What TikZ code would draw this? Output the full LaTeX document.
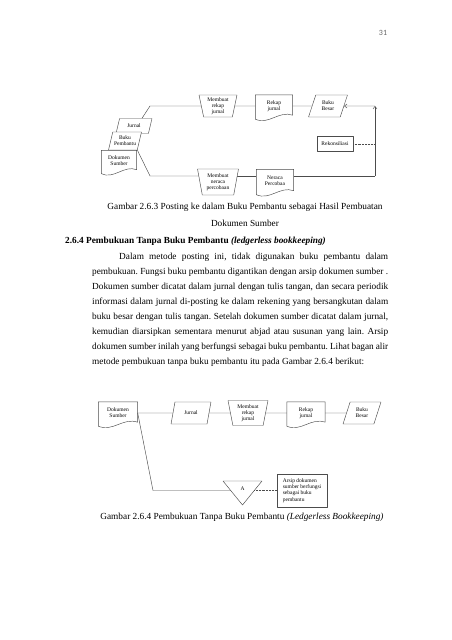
\documentclass[tikz,border=0pt]{standalone}
\usepackage{fontspec}
\setmainfont{Liberation Serif}
\newfontfamily\nomorfont{Carlito}
\usetikzlibrary{arrows.meta,shapes.geometric,calc,backgrounds}
\frenchspacing
\tikzset{
	halaman/.style={x=1pt, y=-1pt, line join=round},
	garis/.style={draw=black!70, line width=0.45pt},
	teks/.style={font=\fontsize{9.3}{15}\selectfont, inner sep=0pt},
	kecil/.style={font=\fontsize{5.5}{6.2}\selectfont, align=center, inner sep=0.5pt},
	jajar/.style={kecil, garis, fill=white, trapezium, trapezium left angle=70,
	              trapezium right angle=110, trapezium stretches=true},
	manual/.style={kecil, garis, fill=white, trapezium, shape border rotate=180,
	               trapezium left angle=79, trapezium right angle=79, trapezium stretches=true},
	dok/.style={kecil, rectangle},
	kotak/.style={kecil, garis, fill=white, rectangle},
	tok/.style={garis, -{Straight Barb[length=2.6pt,width=4pt]}},
	titik/.style={garis, densely dotted},
}
% garis luar dokumen (bawah bergelombang)
\newcommand{\dokumen}[1]{%
	\draw[garis] ($(#1.south west)+(0,2)$) -- (#1.north west) -- (#1.north east)
	  -- ($(#1.south east)+(0,-2)$)
	  .. controls ($(#1.south)+(5,-7)$) and ($(#1.south)+(-5,8)$) .. ($(#1.south west)+(0,2)$);}

\begin{document}
\begin{tikzpicture}[halaman]
\begin{scope}[on background layer]
\fill[white] (0,0) rectangle (452,640);
\end{scope}
\useasboundingbox (0,0) rectangle (452,640);

\node[font=\nomorfont\fontsize{8}{9}\selectfont, text=black!60, inner sep=0pt] (hal) at (383,33) {31};

% Gambar 2.6.3
\node[jajar, minimum width=36, minimum height=15] (jurnal1) at (134,126) {Jurnal};
\node[jajar, minimum width=33, minimum height=18] (pembantu1) at (125,141) {Buku\\Pembantu};
\node[dok, minimum width=35, minimum height=21] (dok1) at (119,161) {Dokumen\\Sumber};
\dokumen{dok1}

\node[manual, minimum width=38, minimum height=22] (rekap1) at (218,106) {Membuat\\rekap\\jurnal};
\node[dok, minimum width=37, minimum height=22] (rekapj1) at (274,106) {Rekap\\jurnal};
\dokumen{rekapj1}
\node[jajar, minimum width=39, minimum height=22] (besar1) at (328,106) {Buku\\Besar};
\node[kotak, minimum width=36, minimum height=15] (rekon) at (335,144) {Rekonsiliasi};

\node[manual, minimum width=41, minimum height=26] (neraca1) at (218,182) {Membuat\\neraca\\percobaan};
\node[dok, minimum width=37, minimum height=23] (neracap1) at (275,181) {Neraca\\Percobaa};
\dokumen{neracap1}

\coordinate (tekuk1) at (150,106);
\coordinate (tekuk2) at (150,176);
\coordinate (sudut) at (375,106);
\coordinate (sudutbawah) at (375,176);

\begin{scope}[on background layer]
\draw[garis] ($(jurnal1.north)+(8,0)$) -- (tekuk1) -- (rekap1.west);
\draw[garis] (rekap1.east) -- (rekapj1.west);
\draw[garis] (rekapj1.east) -- (besar1.west);
\draw[garis] (pembantu1.bottom right corner) -- (tekuk2) -- (tekuk2 -| neraca1.west);
\draw[garis] (tekuk2 -| neraca1.east) -- (tekuk2 -| neracap1.west);
\draw[garis] (tekuk2 -| neracap1.east) -- (sudutbawah);
\draw[tok] (sudutbawah) -- (sudut);
\draw[tok] (sudut) -- (besar1.east);
\draw[titik] (rekon.east) -- (rekon.east -| sudut);
\end{scope}

\node[teks, align=center, font=\fontsize{9.3}{17}\selectfont] (kapsi1) at (245,215)
    {Gambar 2.6.3 Posting ke dalam Buku Pembantu sebagai Hasil Pembuatan\\Dokumen Sumber};

\node[teks, anchor=west, font=\fontsize{9.3}{15}\selectfont\bfseries] (judul) at (65,241)
    {2.6.4 Pembukuan Tanpa Buku Pembantu \textit{(ledgerless bookkeeping)}};

\node[teks, anchor=north west, text width=296, align=justify] (paragraf) at (92,253)
    {\hspace*{27pt}Dalam metode posting ini, tidak digunakan buku pembantu dalam\linebreak
    pembukuan. Fungsi buku pembantu digantikan dengan arsip dokumen sumber .\linebreak
    Dokumen sumber dicatat dalam jurnal dengan tulis tangan, dan secara periodik\linebreak
    informasi dalam jurnal di-posting ke dalam rekening yang bersangkutan dalam\linebreak
    buku besar dengan tulis tangan. Setelah dokumen sumber dicatat dalam jurnal,\linebreak
    kemudian diarsipkan sementara menurut abjad atau susunan yang lain. Arsip\linebreak
    dokumen sumber inilah yang berfungsi sebagai buku pembantu. Lihat bagan alir\linebreak
    metode pembukuan tanpa buku pembantu itu pada Gambar 2.6.4 berikut:};

% Gambar 2.6.4
\node[dok, minimum width=39, minimum height=22] (dok2) at (118,413) {Dokumen\\Sumber};
\dokumen{dok2}
\node[jajar, minimum width=40, minimum height=22] (jurnal2) at (191,413) {Jurnal};
\node[manual, minimum width=40, minimum height=25] (rekap2) at (248,413) {Membuat\\rekap\\jurnal};
\node[dok, minimum width=38, minimum height=22] (rekapj2) at (306,413) {Rekap\\jurnal};
\dokumen{rekapj2}
\node[jajar, minimum width=38, minimum height=22] (besar2) at (362,413) {Buku\\Besar};

\node[kecil] (A) at (242.5,489) {A};
\draw[garis] ($(A)+(-19.5,-8)$) -- ($(A)+(19.5,-8)$) -- ($(A)+(0,16)$) -- cycle;
\coordinate (Akiri) at ($(A)+(-11.8,1.5)$);
\coordinate (Akanan) at ($(A)+(11.8,1.5)$);
\coordinate (tekuk3) at (153,490.5);
\node[kotak, align=left, minimum width=50, minimum height=33, inner sep=2pt] (arsip) at (302,490.5)
    {Arsip dokumen\\sumber berfungsi\\sebagai buku\\pembantu};

\begin{scope}[on background layer]
\draw[garis] (dok2.east) -- (jurnal2.west);
\draw[garis] (jurnal2.east) -- (rekap2.west);
\draw[garis] (rekap2.east) -- (rekapj2.west);
\draw[garis] (rekapj2.east) -- (besar2.west);
\draw[garis] (dok2.east) -- (tekuk3) -- (Akiri);
\draw[titik] (Akanan) -- (arsip.west);
\end{scope}

\node[teks] (kapsi2) at (242,517)
    {Gambar 2.6.4 Pembukuan Tanpa Buku Pembantu \textit{(Ledgerless Bookkeeping)}};

\end{tikzpicture}
\end{document}
